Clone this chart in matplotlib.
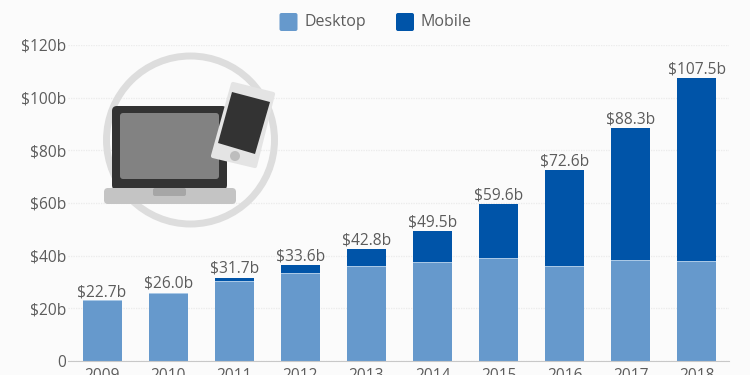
# -*- coding: utf-8 -*-
from matplotlib import pyplot as plt
from matplotlib.patches import Circle, FancyBboxPatch, Polygon

years = ['2009', '2010', '2011', '2012', '2013', '2014', '2015', '2016', '2017', '2018']
desktop = [22.7, 25.3, 30.0, 33.0, 35.8, 37.2, 38.7, 35.8, 38.0, 37.5]
totals = [22.7, 26.0, 31.7, 36.4, 42.6, 49.4, 59.6, 72.6, 88.3, 107.5]
total_labels = ['$22.7b', '$26.0b', '$31.7b', '$33.6b', '$42.8b', '$49.5b', '$59.6b', '$72.6b', '$88.3b', '$107.5b']
y_ticks = [0, 20, 40, 60, 80, 100, 120]
y_labels = ['0', '$20b', '$40b', '$60b', '$80b', '$100b', '$120b']

BG = '#fbfbfb'
TEXT = '#5c5c5c'
DESKTOP = '#6699cc'
MOBILE = '#0054a8'

plt.rcParams['font.family'] = ['Open Sans', 'DejaVu Sans']

fig = plt.figure(figsize=(7.5, 3.75), dpi=100, facecolor=BG)
ax = fig.add_axes([68 / 750, 1 - 361 / 375, 661 / 750, 316 / 375], facecolor=BG)

x = list(range(len(years)))
mobile = [t - d for t, d in zip(totals, desktop)]
ax.bar(x, desktop, width=0.59, color=DESKTOP, edgecolor='none', zorder=3)
ax.bar(x, mobile, width=0.59, bottom=desktop, color=MOBILE, edgecolor='none', zorder=3)
# thin light seam between the two parts of a bar
ax.bar(x, [0.4] * len(x), width=0.59, bottom=desktop, color='#a9c8e6', edgecolor='none', zorder=4)

for i in x:
  ax.text(i, totals[i] + 0.3, total_labels[i], ha='center', va='bottom', fontsize=11.2, color=TEXT, zorder=6)

ax.set_xlim(-0.515, 9.485)
ax.set_ylim(0, 120)
ax.set_xticks(x)
ax.set_xticklabels(years, fontsize=11.2, color=TEXT)
ax.set_yticks(y_ticks)
ax.set_yticklabels(y_labels, fontsize=11.2, color=TEXT)
ax.tick_params(axis='x', length=0, pad=5)
ax.tick_params(axis='y', length=0, pad=1.5)
ax.grid(axis='y', color='#ebebeb', linewidth=0.9, linestyle=(0, (1, 1)), zorder=0)
for name in ['top', 'right', 'left']:
  ax.spines[name].set_visible(False)
ax.spines['bottom'].set_color('#c8c8c8')
ax.spines['bottom'].set_zorder(5)

# overlay in pixel coordinates for the icon and the legend
over = fig.add_axes([0, 0, 1, 1], facecolor='none')
over.set_xlim(0, 750)
over.set_ylim(375, 0)
over.axis('off')

over.add_patch(Circle((190.5, 140), 84, facecolor='none', edgecolor='#dddddd', linewidth=5))
over.add_patch(FancyBboxPatch((112, 106), 115, 84, boxstyle='round,pad=0,rounding_size=5', facecolor='#333333', edgecolor='none'))
over.add_patch(FancyBboxPatch((120, 113), 99, 66, boxstyle='round,pad=0,rounding_size=3', facecolor='#828282', edgecolor='none'))
over.add_patch(FancyBboxPatch((104, 188), 132, 16, boxstyle='round,pad=0,rounding_size=4', facecolor='#c4c4c4', edgecolor='none'))
over.add_patch(FancyBboxPatch((153, 188), 33, 8, boxstyle='round,pad=0,rounding_size=2', facecolor='#a6a6a6', edgecolor='none'))
over.add_patch(Polygon([(233, 84), (273, 94), (255, 166), (213, 156)], closed=True, facecolor='#e4e4e4', edgecolor='#e4e4e4', linewidth=3, joinstyle='round'))
over.add_patch(Polygon([(232, 92), (270, 102), (255, 154), (218, 143)], closed=True, facecolor='#333333', edgecolor='none'))
over.add_patch(Circle((235, 156), 5, facecolor='#bdbdbd', edgecolor='none'))

over.add_patch(FancyBboxPatch((279.5, 13), 18, 18, boxstyle='round,pad=0,rounding_size=2', facecolor=DESKTOP, edgecolor='none'))
over.add_patch(FancyBboxPatch((396, 13), 18, 18, boxstyle='round,pad=0,rounding_size=2', facecolor=MOBILE, edgecolor='none'))
over.text(305, 22, 'Desktop', ha='left', va='center', fontsize=11.5, color=TEXT)
over.text(421, 22, 'Mobile', ha='left', va='center', fontsize=11.5, color=TEXT)

fig.savefig('out.png', dpi=100, facecolor=BG)
